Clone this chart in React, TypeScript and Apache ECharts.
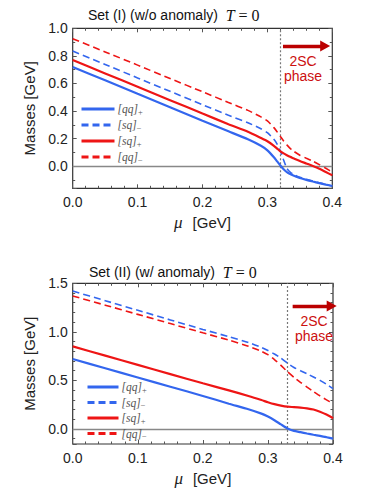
import { useEffect, useRef } from "react";
import * as echarts from "echarts";

// ---------- data ----------
const muI = [0, 0.05, 0.1, 0.15, 0.2, 0.24, 0.27, 0.29, 0.3, 0.31, 0.315, 0.32, 0.325, 0.33, 0.335, 0.34, 0.35, 0.36, 0.37, 0.38, 0.39, 0.4];
const qqPlusI = [0.72, 0.623, 0.525, 0.428, 0.33, 0.253, 0.195, 0.148, 0.115, 0.065, 0.035, 0.005, -0.022, -0.042, -0.056, -0.067, -0.085, -0.099, -0.111, -0.122, -0.133, -0.143];
const sqMinusI = [0.835, 0.738, 0.64, 0.543, 0.446, 0.37, 0.315, 0.272, 0.243, 0.195, 0.16, 0.11, 0.045, -0.015, -0.042, -0.058, -0.08, -0.095, -0.108, -0.12, -0.132, -0.143];
const sqPlusI = [0.77, 0.673, 0.576, 0.479, 0.382, 0.305, 0.25, 0.205, 0.181, 0.148, 0.128, 0.108, 0.093, 0.08, 0.068, 0.058, 0.038, 0.02, 0.002, -0.018, -0.042, -0.066];
const qqMinusI = [0.925, 0.829, 0.733, 0.636, 0.54, 0.462, 0.405, 0.358, 0.328, 0.28, 0.249, 0.216, 0.183, 0.155, 0.13, 0.11, 0.08, 0.058, 0.037, 0.012, -0.015, -0.042];

const muII = [0, 0.05, 0.1, 0.15, 0.2, 0.24, 0.27, 0.29, 0.3, 0.31, 0.32, 0.33, 0.34, 0.35, 0.36, 0.37, 0.38, 0.39, 0.4];
const qqPlusII = [0.72, 0.625, 0.53, 0.435, 0.34, 0.26, 0.203, 0.158, 0.128, 0.09, 0.047, 0.005, -0.02, -0.033, -0.047, -0.06, -0.072, -0.085, -0.1];
const sqMinusII = [1.42, 1.321, 1.222, 1.123, 1.025, 0.95, 0.89, 0.84, 0.808, 0.772, 0.73, 0.678, 0.633, 0.6, 0.569, 0.535, 0.5, 0.46, 0.415];
const sqPlusII = [0.85, 0.755, 0.66, 0.565, 0.47, 0.397, 0.34, 0.298, 0.275, 0.255, 0.24, 0.229, 0.225, 0.22, 0.212, 0.2, 0.178, 0.148, 0.11];
const qqMinusII = [1.37, 1.275, 1.18, 1.085, 0.99, 0.915, 0.852, 0.8, 0.765, 0.715, 0.655, 0.59, 0.532, 0.48, 0.43, 0.385, 0.34, 0.3, 0.26];

const seriesNames = ["[qq]+", "[sq]-", "[sq]+", "[qq]-"];
const transitionMu = [0.32, 0.332];
const arrowI = { x0: 0.324, x1: 0.389, y: 0.872 };
const arrowII = { x0: 0.338, x1: 0.398, y: 1.267 };
const titles = ["Set (I) (w/o anomaly)", "Set (II) (w/ anomaly)"];
const phaseLabel = ["2SC", "phase"];

const BLUE = "#3366ee";
const RED = "#ee1515";
const DARKRED = "#bb0000";
const SANS = "'Liberation Sans', Arial, sans-serif";
const SERIF = "'Liberation Serif', 'Times New Roman', serif";

const zip = (xs: number[], ys: number[]) => xs.map((x, i) => [x, ys[i]]);

export default function App() {
  const ref = useRef<HTMLDivElement>(null);
  useEffect(() => {
    if (!ref.current) return;
    const chart = echarts.init(ref.current, null, { renderer: "svg" });

    const grids = [
      { left: 72.7, top: 28.3, width: 259.6, height: 160 },
      { left: 72.7, top: 283.3, width: 260.3, height: 160.7 },
    ];
    const yRanges = [
      { min: -0.16, max: 1.0, split: 5, minor: 2 },
      { min: -0.155, max: 1.5, split: 4, minor: 5 },
    ];

    const tickStyle = { color: "#555", width: 1 };
    const mkX = (g: number, main: boolean) => ({
      type: "value",
      gridIndex: g,
      position: main ? "bottom" : "top",
      min: 0,
      max: 0.4,
      interval: 0.1,
      axisLine: { show: false, onZero: false },
      axisTick: { show: true, inside: true, length: 4, lineStyle: tickStyle },
      minorTick: { show: true, splitNumber: 5, length: 2.5, lineStyle: tickStyle },
      splitLine: { show: false },
      axisLabel: main
        ? { show: true, margin: 7, color: "#222", fontSize: 14, fontFamily: SANS, formatter: (v: number) => v.toFixed(1) }
        : { show: false },
      name: main ? "{m|μ}   {n|[GeV]}" : "",
      nameLocation: "middle",
      nameGap: 26,
      nameTextStyle: {
        rich: {
          m: { fontFamily: SERIF, fontStyle: "italic", fontSize: 17, color: "#222" },
          n: { fontFamily: SANS, fontSize: 15, color: "#222" },
        },
      },
    });
    const mkY = (g: number, main: boolean) => ({
      type: "value",
      gridIndex: g,
      position: main ? "left" : "right",
      min: yRanges[g].min,
      max: yRanges[g].max,
      splitNumber: yRanges[g].split,
      axisLine: { show: false, onZero: false },
      axisTick: { show: true, inside: true, length: 4, lineStyle: tickStyle },
      minorTick: { show: true, splitNumber: yRanges[g].minor, length: 2.5, lineStyle: tickStyle },
      splitLine: { show: false },
      axisLabel: main
        ? { show: true, margin: 5, color: "#222", fontSize: 14, fontFamily: SANS, showMinLabel: false, formatter: (v: number) => v.toFixed(1) }
        : { show: false },
      name: main ? "Masses [GeV]" : "",
      nameLocation: "middle",
      nameGap: 29,
      nameRotate: 90,
      nameTextStyle: { fontFamily: SANS, fontSize: 15, color: "#222" },
    });

    const allData = [
      [qqPlusI, sqMinusI, sqPlusI, qqMinusI],
      [qqPlusII, sqMinusII, sqPlusII, qqMinusII],
    ];
    const muArr = [muI, muII];
    const colors = [BLUE, BLUE, RED, RED];
    const dashed = [false, true, false, true];
    const arrows = [arrowI, arrowII];

    const series: any[] = [];
    for (let g = 0; g < 2; g++) {
      for (let k = 0; k < 4; k++) {
        const s: any = {
          type: "line",
          name: seriesNames[k],
          xAxisIndex: g,
          yAxisIndex: g,
          data: zip(muArr[g], allData[g][k]),
          showSymbol: false,
          symbol: "none",
          smooth: 0.2,
          clip: true,
          z: 3,
          lineStyle: dashed[k]
            ? { color: colors[k], width: 1.6, type: [7, 4] }
            : { color: colors[k], width: 2.2, type: "solid" },
          itemStyle: { color: colors[k] },
        };
        if (k === 0) {
          const a = arrows[g];
          s.markLine = {
            silent: true,
            animation: false,
            symbol: ["none", "none"],
            label: { show: false },
            z: 2,
            data: [
              { yAxis: 0, lineStyle: { color: "#888", width: 1.3, type: "solid" } },
              { xAxis: transitionMu[g], lineStyle: { color: "#777", width: 1.2, type: [2, 2] } },
              [
                { coord: [a.x0, a.y], symbol: "none", lineStyle: { color: DARKRED, width: 3.4, type: "solid" } },
                { coord: [a.x1, a.y], symbol: "triangle", symbolSize: [11, 10], symbolRotate: -90, symbolOffset: [0, 0] },
              ],
            ],
          };
        }
        series.push(s);
      }
    }

    const legendRich = {
      m: { fontFamily: SERIF, fontStyle: "italic", fontSize: 11.5, color: "#555", lineHeight: 14, verticalAlign: "middle" },
      s: { fontFamily: SERIF, fontSize: 8.5, color: "#555", lineHeight: 14, verticalAlign: "bottom" },
    };
    const legendFmt = (name: string) => {
      const base = name.slice(0, 4);
      const sign = name.slice(4) === "+" ? "+" : "−";
      return `{m|${base}}{s|${sign}}`;
    };
    const mkLegend = (left: number, top: number, width: number, gap: number) => ({
      show: true,
      orient: "vertical",
      left,
      top,
      padding: 0,
      itemWidth: width,
      itemHeight: 2,
      itemGap: gap,
      selectedMode: false,
      data: seriesNames,
      lineStyle: { width: 3 },
      itemStyle: { opacity: 0 },
      formatter: legendFmt,
      textStyle: { rich: legendRich, lineHeight: 14, padding: [0, 0, 0, -2] },
    });

    const titleRich = {
      a: { fontFamily: SANS, fontSize: 14, color: "#111", fontWeight: "normal" },
      t: { fontFamily: SERIF, fontStyle: "italic", fontSize: 16, color: "#111", fontWeight: "normal" },
      e: { fontFamily: SERIF, fontSize: 16, color: "#111", fontWeight: "normal" },
    };

    const phaseText = (cx: number, cy: number) => [
      {
        type: "text",
        x: cx,
        y: cy,
        style: { text: phaseLabel[0], fill: "#cc1010", font: `14px ${SANS}`, textAlign: "center", textVerticalAlign: "middle" },
      },
      {
        type: "text",
        x: cx,
        y: cy + 15,
        style: { text: phaseLabel[1], fill: "#cc1010", font: `14px ${SANS}`, textAlign: "center", textVerticalAlign: "middle" },
      },
    ];

    chart.setOption({
      animation: false,
      backgroundColor: "#fff",
      title: [
        { left: 88, top: 7, padding: 0, text: `{a|${titles[0]}}  {t|T}{e| = 0}`, textStyle: { rich: titleRich, fontWeight: "normal", fontSize: 14 } },
        { left: 89, top: 264, padding: 0, text: `{a|${titles[1]}}  {t|T}{e| = 0}`, textStyle: { rich: titleRich, fontWeight: "normal", fontSize: 14 } },
      ],
      grid: grids.map((g) => ({ ...g, show: true, borderColor: "#333", borderWidth: 1.2, backgroundColor: "transparent" })),
      xAxis: [mkX(0, true), mkX(1, true), mkX(0, false), mkX(1, false)],
      yAxis: [mkY(0, true), mkY(1, true), mkY(0, false), mkY(1, false)],
      legend: [mkLegend(80, 102, 33, 2), mkLegend(86, 380, 31, 1.5)],
      series,
      graphic: [...phaseText(303, 61), ...phaseText(314, 321)],
    });

    return () => chart.dispose();
  }, []);
  return <div ref={ref} style={{ position: "fixed", left: 0, top: 0, width: 386, height: 496 }} />;
}
